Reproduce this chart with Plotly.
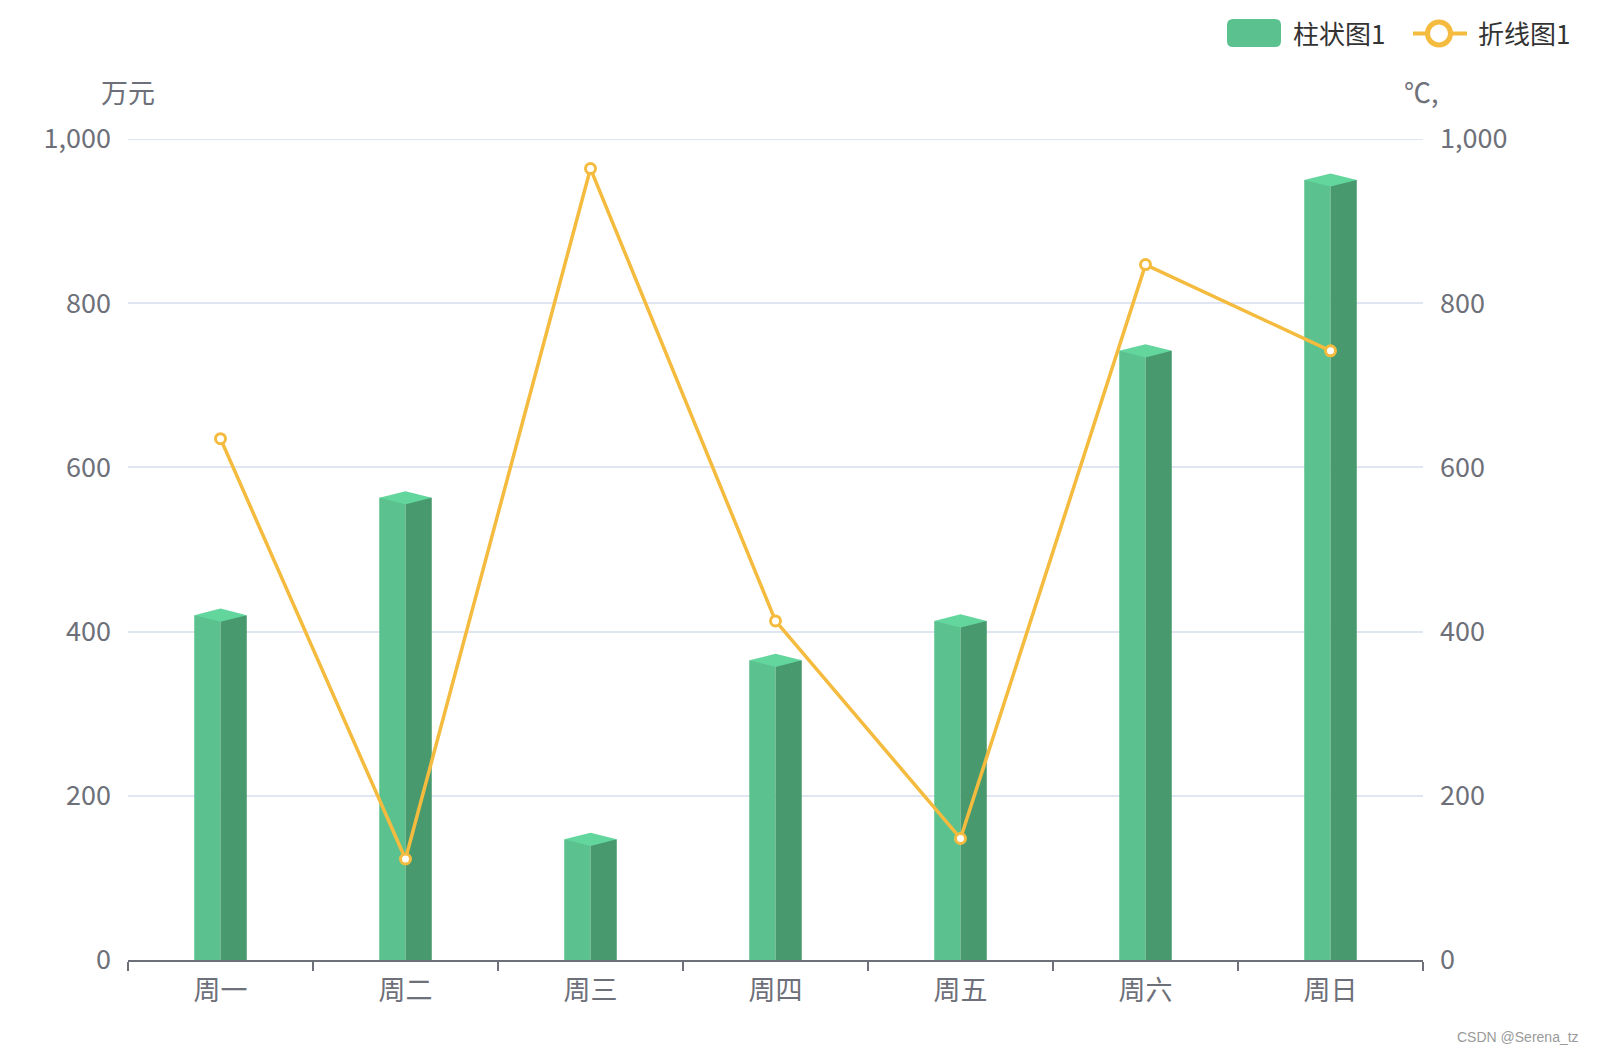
import plotly.graph_objects as go

categories = ["周一", "周二", "周三", "周四", "周五", "周六", "周日"]
bar_values = [420, 563, 147, 365, 413, 742, 950]
line_values = [635, 123, 964, 413, 148, 847, 742]
y_ticks = [0, 200, 400, 600, 800, 1000]
y_tick_text = ["0", "200", "400", "600", "800", "1,000"]
bar_name = "柱状图1"
line_name = "折线图1"
left_unit = "万元"
right_unit = "℃,"

W, H = 1597, 1053
ML, MR, MT, MB = 128, 174, 139, 93
PW, PH = W - ML - MR, H - MT - MB
Y_MAX = 1000

def px(x):
    return (x - ML) / PW

def py(y):
    return (H - MB - y) / PH

FONT = "Noto Sans CJK SC, Noto Sans, sans-serif"
AX = "#6e7079"
GRID = "#e0e6f1"
C_LIGHT = "#5bc28f"
C_DARK = "#489a6e"
C_TOP = "#63d69e"
C_LINE = "#f4bb3e"
FS = 27

idx = list(range(len(categories)))
hw = 0.142          # half bar width in category units
dv = 8              # rhombus half-height in value units

fig = go.Figure()
fig.add_trace(go.Bar(x=idx, y=bar_values, width=hw, offset=-hw,
                     marker=dict(color=C_LIGHT, line=dict(width=0)), showlegend=False))
fig.add_trace(go.Bar(x=idx, y=bar_values, width=hw, offset=0,
                     marker=dict(color=C_DARK, line=dict(width=0)), showlegend=False))
rx, ry = [], []
for i, v in zip(idx, bar_values):
    rx += [i - hw, i, i + hw, i, i - hw, None]
    ry += [v, v + dv, v, v - dv, v, None]
fig.add_trace(go.Scatter(x=rx, y=ry, mode="lines", fill="toself", fillcolor=C_TOP,
                         line=dict(width=0, color=C_TOP), showlegend=False, hoverinfo="skip"))
fig.add_trace(go.Scatter(x=idx, y=line_values, yaxis="y2", mode="lines+markers",
                         line=dict(color=C_LINE, width=3.5),
                         marker=dict(symbol="circle", size=10, color="white",
                                     line=dict(color=C_LINE, width=3)),
                         showlegend=False))

fig.update_layout(
    width=W, height=H,
    margin=dict(l=ML, r=MR, t=MT, b=MB),
    paper_bgcolor="white", plot_bgcolor="white",
    barmode="overlay",
    font=dict(family=FONT, size=FS, color=AX),
    xaxis=dict(type="linear", range=[-0.5, len(categories) - 0.5],
               tickvals=idx, ticktext=categories, ticks="",
               minor=dict(tickvals=[i - 0.5 for i in range(len(categories) + 1)],
                          ticks="outside", ticklen=9, tickwidth=2, tickcolor=AX, showgrid=False),
               showgrid=False, zeroline=False, showline=True, linecolor=AX, linewidth=2,
               tickfont=dict(size=FS, color=AX), ticklabelstandoff=6, fixedrange=True),
    yaxis=dict(range=[0, Y_MAX], tickvals=y_ticks, ticktext=y_tick_text,
               showgrid=True, gridcolor=GRID, gridwidth=2, zeroline=False,
               showline=False, ticks="", ticklabelstandoff=16,
               tickfont=dict(size=FS, color=AX)),
    yaxis2=dict(range=[0, Y_MAX], tickvals=y_ticks, ticktext=y_tick_text, overlaying="y",
                side="right", showgrid=False, zeroline=False, showline=False, ticks="",
                ticklabelstandoff=16, tickfont=dict(size=FS, color=AX)),
)

shapes = []
# top gridline (plotly omits the gridline on the range edge)
shapes.append(dict(type="line", xref="paper", yref="y", x0=0, x1=1,
                   y0=y_ticks[-1], y1=y_ticks[-1], layer="below",
                   line=dict(color=GRID, width=2)))
# legend: rounded rect
x0, x1, y0, y1, r = 1227, 1281, 19, 47, 6
path = (f"M {px(x0 + r)},{py(y0)} L {px(x1 - r)},{py(y0)} Q {px(x1)},{py(y0)} {px(x1)},{py(y0 + r)} "
        f"L {px(x1)},{py(y1 - r)} Q {px(x1)},{py(y1)} {px(x1 - r)},{py(y1)} "
        f"L {px(x0 + r)},{py(y1)} Q {px(x0)},{py(y1)} {px(x0)},{py(y1 - r)} "
        f"L {px(x0)},{py(y0 + r)} Q {px(x0)},{py(y0)} {px(x0 + r)},{py(y0)} Z")
shapes.append(dict(type="path", xref="paper", yref="paper", path=path,
                   fillcolor=C_LIGHT, line=dict(width=0)))
shapes.append(dict(type="line", xref="paper", yref="paper", x0=px(1413), x1=px(1467),
                   y0=py(33.5), y1=py(33.5), line=dict(color=C_LINE, width=4)))
cr = 11.5
shapes.append(dict(type="circle", xref="paper", yref="paper",
                   x0=px(1439 - cr), x1=px(1439 + cr), y0=py(33.5 + cr), y1=py(33.5 - cr),
                   fillcolor="white", line=dict(color=C_LINE, width=5)))
fig.update_layout(shapes=shapes)

ann = [
    dict(text=bar_name, x=px(1291), y=py(33), xanchor="left", yanchor="middle",
         font=dict(size=26, color="#333333")),
    dict(text=line_name, x=px(1476), y=py(33), xanchor="left", yanchor="middle",
         font=dict(size=26, color="#333333")),
    dict(text=left_unit, x=px(128), y=py(92), xanchor="center", yanchor="middle",
         font=dict(size=FS, color=AX)),
    dict(text=right_unit, x=px(1421), y=py(92), xanchor="center", yanchor="middle",
         font=dict(size=FS, color=AX)),
    dict(text="CSDN @Serena_tz", x=px(1581), y=py(1037), xanchor="right", yanchor="middle",
         font=dict(size=14, color="#9a9a9a", family="Liberation Sans, Arial, sans-serif")),
]
for a in ann:
    a.update(xref="paper", yref="paper", showarrow=False)
fig.update_layout(annotations=ann)

fig.write_html("out.html")
